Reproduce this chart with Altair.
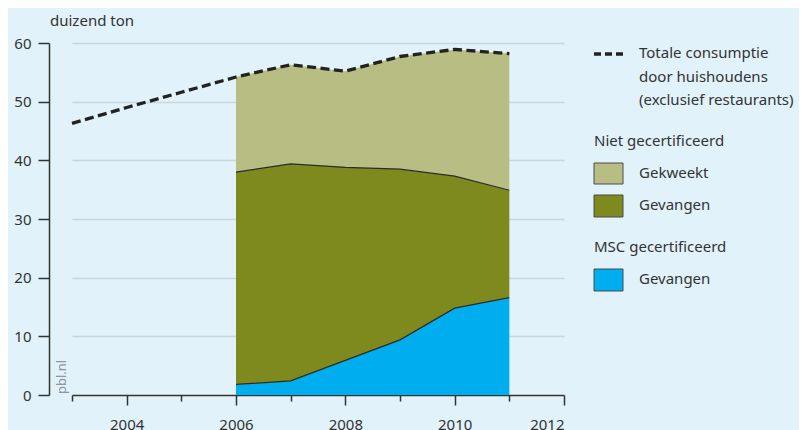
import altair as alt
import pandas as pd

# ---- data ----
years_total = [2003, 2004, 2005, 2006, 2007, 2008, 2009, 2010, 2011]
total = [46.3, 49.0, 51.6, 54.2, 56.3, 55.2, 57.7, 58.9, 58.2]

years = [2006, 2007, 2008, 2009, 2010, 2011]
msc_gevangen = [1.8, 2.4, 5.9, 9.4, 14.8, 16.6]
niet_gevangen = [36.2, 37.0, 32.9, 29.1, 22.5, 18.3]
niet_gekweekt = [16.2, 16.9, 16.4, 19.2, 21.6, 23.3]

series_names = ["MSC gevangen", "Niet gecertificeerd gevangen", "Niet gecertificeerd gekweekt"]
series_values = [msc_gevangen, niet_gevangen, niet_gekweekt]
series_colors = ["#00AEEF", "#7F8A1E", "#B8BD83"]

x_ticks = list(range(2003, 2013))
y_ticks = list(range(0, 61, 5))

# ---- tables ----
rows = []
for k, (name, vals) in enumerate(zip(series_names, series_values)):
    for yr, v in zip(years, vals):
        rows.append({"year": yr, "serie": name, "value": v, "ord": k})
df_area = pd.DataFrame(rows)

# boundaries (top of blue and top of olive)
b_rows = []
cum = [0.0] * len(years)
for k, (name, vals) in enumerate(zip(series_names[:2], series_values[:2])):
    cum = [c + v for c, v in zip(cum, vals)]
    for yr, c in zip(years, cum):
        b_rows.append({"year": yr, "grens": name, "top": c})
df_bound = pd.DataFrame(b_rows)

df_total = pd.DataFrame({"year": years_total, "total": total})

FONT = "Noto Sans"
TXT = "#333333"

xscale = alt.Scale(domain=[2003, 2012], nice=False, zero=False)
yscale = alt.Scale(domain=[0, 60], nice=False)

xaxis = alt.Axis(
    values=x_ticks, format="d", title=None, grid=False,
    labelExpr="datum.value % 2 == 0 ? datum.label : ''",
    tickSize={"condition": {"test": "datum.value % 2 == 0", "value": 10}, "value": 6},
    domainColor=TXT, tickColor=TXT, domainWidth=1.5, tickWidth=1.5,
    labelFontSize=15, labelColor=TXT, labelFont=FONT, labelPadding=12,
    labelBaseline="top",
)
yaxis = alt.Axis(
    values=y_ticks, title=None, offset=23,
    labelExpr="datum.value % 10 == 0 ? datum.label : ''",
    tickSize={"condition": {"test": "datum.value % 10 == 0", "value": 11}, "value": 6},
    grid=True, gridColor="#CBD5DA", gridWidth=1.5,
    gridOpacity={"condition": {"test": "datum.value % 10 == 0 && datum.value > 0", "value": 1}, "value": 0},
    domainColor=TXT, tickColor=TXT, domainWidth=1.5, tickWidth=1.5,
    labelFontSize=15, labelColor=TXT, labelFont=FONT, labelPadding=7,
)

area = alt.Chart(df_area).mark_area(opacity=1).encode(
    x=alt.X("year:Q", scale=xscale, axis=xaxis),
    y=alt.Y("value:Q", stack="zero", scale=yscale, axis=yaxis),
    color=alt.Color("serie:N", scale=alt.Scale(domain=series_names, range=series_colors), legend=None),
    order=alt.Order("ord:Q"),
)

bounds = alt.Chart(df_bound).mark_line(color="#2a2a2a", strokeWidth=1.2).encode(
    x=alt.X("year:Q", scale=xscale),
    y=alt.Y("top:Q", scale=yscale),
    detail="grens:N",
)

total_line = alt.Chart(df_total).mark_line(
    color="#222222", strokeWidth=3.3, strokeDash=[9, 4.5]
).encode(
    x=alt.X("year:Q", scale=xscale),
    y=alt.Y("total:Q", scale=yscale),
)

one = pd.DataFrame({"a": [0]})

def txt(s, x, y, size=15, color=TXT, **kw):
    return alt.Chart(one).mark_text(
        text=s, font=FONT, fontSize=size, color=color, align="left", baseline="middle", **kw
    ).encode(x=alt.value(x), y=alt.value(y))

def box(y0, y1, color):
    return alt.Chart(one).mark_rect(color=color, stroke="#4a4a4a", strokeWidth=1).encode(
        x=alt.value(522), x2=alt.value(551), y=alt.value(y0), y2=alt.value(y1)
    )

title = txt("duizend ton", -22, -22)
pbl = txt("pbl.nl", -10, 351, size=13, color="#8C969C", angle=270)

leg_dash = alt.Chart(one).mark_rule(color="#222222", strokeWidth=3.3, strokeDash=[7, 4]).encode(
    x=alt.value(522), x2=alt.value(551), y=alt.value(11)
)
leg_total = alt.Chart(one).mark_text(
    text=["Totale consumptie", "door huishoudens", "(exclusief restaurants)"],
    font=FONT, fontSize=15, color=TXT, align="left", baseline="middle", lineHeight=23.5,
).encode(x=alt.value(567), y=alt.value(10))

leg = [
    leg_dash, leg_total,
    txt("Niet gecertificeerd", 522, 98),
    box(120, 141, series_colors[2]), txt("Gekweekt", 567, 130),
    box(152, 174, series_colors[1]), txt("Gevangen", 567, 162),
    txt("MSC gecertificeerd", 522, 204),
    box(226, 248, series_colors[0]), txt("Gevangen", 567, 236),
]

chart = alt.layer(area, bounds, total_line, title, pbl, *leg).properties(
    width=492, height=352,
    autosize=alt.AutoSizeParams(type="none"),
    padding={"left": 64, "top": 35, "right": 235, "bottom": 35},
    background="#E1F2FA",
).configure_view(stroke=None).configure_text(font=FONT)

chart.save("out.html", embed_options={"renderer": "svg", "actions": False})
